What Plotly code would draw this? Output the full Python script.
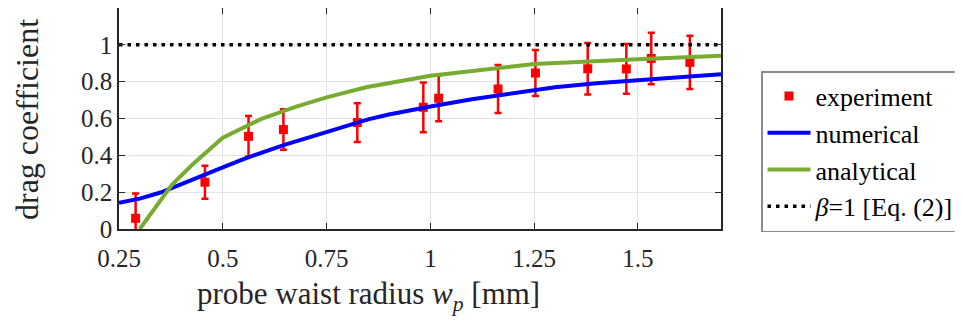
import plotly.graph_objects as go

# experiment
exp_x = [0.29, 0.457, 0.562, 0.646, 0.824, 0.983, 1.020, 1.163, 1.253, 1.379, 1.472, 1.532, 1.625]
exp_y = [0.058, 0.254, 0.503, 0.540, 0.578, 0.661, 0.710, 0.760, 0.847, 0.870, 0.869, 0.926, 0.905]
exp_err = [0.135, 0.09, 0.11, 0.11, 0.105, 0.135, 0.125, 0.13, 0.125, 0.14, 0.135, 0.14, 0.145]

# numerical
num_x = [0.25, 0.30, 0.35, 0.40, 0.45, 0.50, 0.55, 0.60, 0.65, 0.70, 0.75, 0.80, 0.85, 0.90,
         0.95, 1.00, 1.10, 1.20, 1.30, 1.40, 1.50, 1.60, 1.70]
num_y = [0.142, 0.165, 0.198, 0.245, 0.290, 0.335, 0.380, 0.420, 0.458, 0.492, 0.525, 0.562,
         0.595, 0.622, 0.645, 0.665, 0.705, 0.740, 0.770, 0.792, 0.810, 0.826, 0.841]

# analytical
ana_x = [0.30, 0.345, 0.377, 0.425, 0.50, 0.593, 0.677, 0.75, 0.845, 1.00, 1.25, 1.50, 1.70]
ana_y = [0.0, 0.139, 0.238, 0.346, 0.496, 0.598, 0.665, 0.715, 0.770, 0.832, 0.896, 0.922, 0.941]

# beta = 1
beta_x = [0.25, 1.70]
beta_y = [1.0, 1.0]

x_ticks = [0.25, 0.5, 0.75, 1.0, 1.25, 1.5]
x_ticktext = ["0.25", "0.5", "0.75", "1", "1.25", "1.5"]
y_ticks = [0, 0.2, 0.4, 0.6, 0.8, 1.0]
y_ticktext = ["0", "0.2", "0.4", "0.6", "0.8", "1"]

x_title = "probe waist radius <i>w</i><sub><i>p</i></sub> [mm]"
y_title = "drag coefficient"

FONT = "Liberation Serif"
TXT = "#262626"

fig = go.Figure()
fig.add_trace(go.Scatter(
    x=exp_x, y=exp_y, mode="markers", name="experiment",
    marker=dict(symbol="square", size=9, color="#ff0000"),
    error_y=dict(type="data", array=exp_err, visible=True, color="#ff0000",
                 thickness=2.5, width=3.5),
    legendgroup="a"))
fig.add_trace(go.Scatter(
    x=num_x, y=num_y, mode="lines", name="numerical",
    line=dict(color="#0000ff", width=4), legendgroup="b"))
fig.add_trace(go.Scatter(
    x=ana_x, y=ana_y, mode="lines", name="analytical",
    line=dict(color="#77ac30", width=4), legendgroup="c"))
fig.add_trace(go.Scatter(
    x=beta_x, y=beta_y, mode="lines", name="<i>β</i>=1 [Eq. (2)]",
    line=dict(color="#000000", width=3.5, dash="3.5px,5px"), legendgroup="d"))

axis_common = dict(
    showline=True, linecolor=TXT, linewidth=1.5, mirror="ticks",
    ticks="inside", ticklen=6, tickwidth=1, tickcolor=TXT,
    showgrid=True, gridcolor="#e3e3e3", gridwidth=1, zeroline=False,
    tickfont=dict(family=FONT, size=25, color=TXT),
)

W, H = 955, 317
L, R, T, B = 111, 242, 0, 96
PW, PH = W - L - R, H - T - B

fig.update_layout(
    width=W, height=H,
    margin=dict(l=L, r=R, t=T, b=B, autoexpand=False),
    paper_bgcolor="white", plot_bgcolor="white",
    font=dict(family=FONT, color=TXT),
    xaxis=dict(range=[0.25, 1.7], tickvals=x_ticks, ticktext=x_ticktext,
               ticklabelstandoff=6, **axis_common),
    yaxis=dict(range=[0, 1.2], tickvals=y_ticks, ticktext=y_ticktext,
               **axis_common),
    showlegend=True,
    legend=dict(x=(753 - L) / PW, xanchor="left", y=(PH - (63 - T)) / PH, yanchor="top",
                bordercolor="#8c8c8c", borderwidth=1.5, bgcolor="white",
                font=dict(family=FONT, size=26, color="#000000"),
                traceorder="grouped", tracegroupgap=0, itemwidth=43),
    annotations=[
        dict(text=x_title, xref="paper", yref="paper",
             x=(360 - L) / PW, y=-(288 - PH) / PH, xanchor="center", yanchor="middle",
             showarrow=False, font=dict(family=FONT, size=31, color=TXT)),
        dict(text=y_title, xref="paper", yref="paper", textangle=-90,
             x=(19 - L) / PW, y=(PH - 112) / PH, xanchor="center", yanchor="middle",
             showarrow=False, font=dict(family=FONT, size=32, color=TXT)),
    ],
)

fig.write_html("out.html")
